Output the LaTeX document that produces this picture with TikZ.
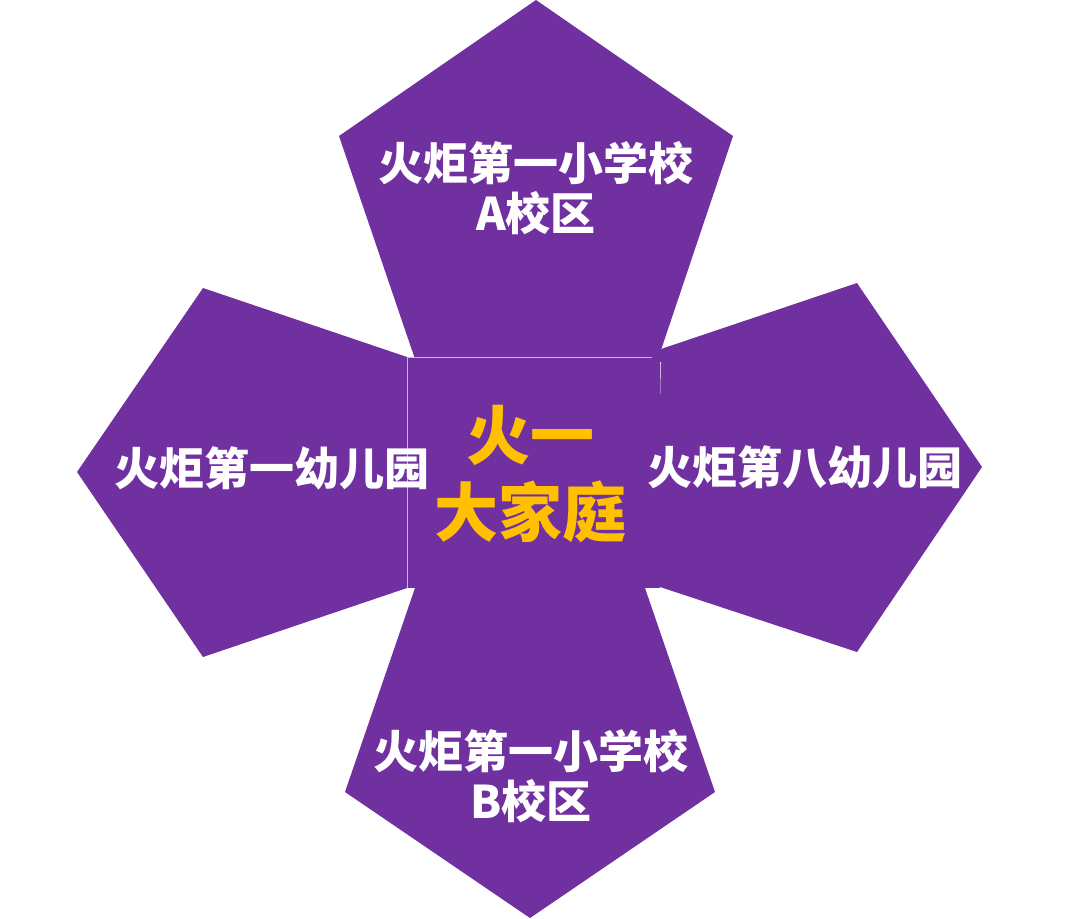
\documentclass[tikz,border=0pt]{standalone}
\usepackage{fontspec}
\newfontfamily\cjk{Noto Sans CJK SC}
\definecolor{pentpurple}{HTML}{7030A0}
\definecolor{gold}{HTML}{FFC000}
\definecolor{lav}{HTML}{C9B3E0}
\begin{document}
\begin{tikzpicture}[x=1pt,y=-1pt,
  pent/.style={fill=pentpurple,draw=none},
  lbl/.style={text=white,align=center,font=\cjk\bfseries\fontsize{45}{50}\selectfont,inner sep=0pt},
  ctr/.style={text=gold,align=center,font=\cjk\bfseries\fontsize{64}{77}\selectfont,inner sep=0pt}]
\useasboundingbox (0,0) rectangle (1080,919);
% pentagons
\fill[pent] (536,0) -- (733,136) -- (661,350) -- (661,362) -- (416,362) -- (339,136) -- cycle;
\fill[pent] (203,288) -- (77,472) -- (203,657) -- (407,588) -- (407,357) -- cycle;
\fill[pent] (857,283) -- (982,467) -- (857,652) -- (657,586) -- (661,349) -- cycle;
\fill[pent] (415,588) -- (645,588) -- (715,792) -- (530,918) -- (345,792) -- cycle;
% centre square
\fill[pentpurple] (407,357) rectangle (659.5,588);
\draw[lav,line width=0.8pt] (407,588) -- (407,357) -- (652,357);
% labels
\node[lbl] (top) at (536,188) {火炬第一小学校\\A校区};
\node[lbl] (left) at (272,468) {火炬第一幼儿园};
\node[lbl] (right) at (805,467) {火炬第八幼儿园};
\node[lbl] (bottom) at (531,776) {火炬第一小学校\\B校区};
\node[ctr] (centre) at (530,474) {火一\\大家庭};
\end{tikzpicture}
\end{document}
